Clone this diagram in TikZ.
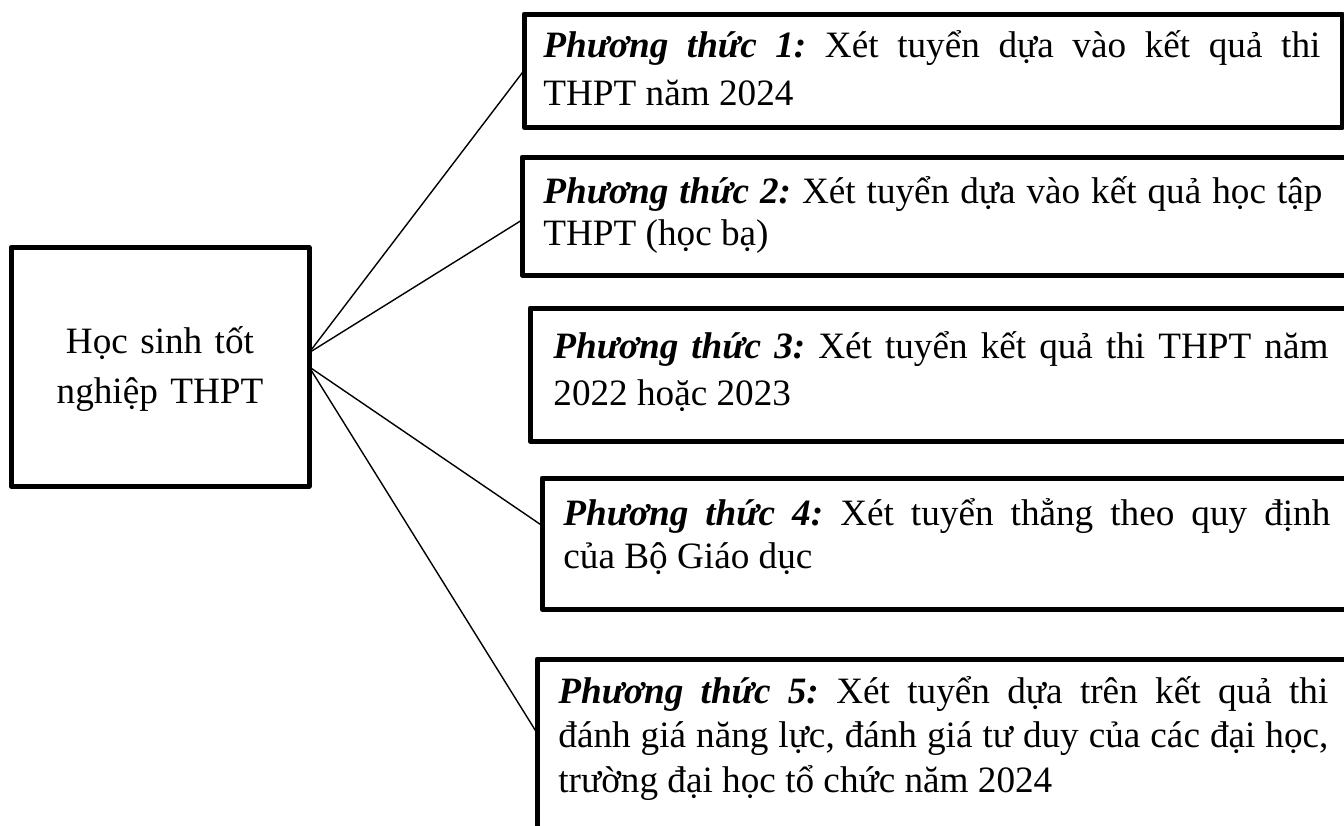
\documentclass[tikz,border=0pt]{standalone}
\usepackage{fontspec}
\setmainfont{Liberation Serif}
\usetikzlibrary{calc}
\tikzset{
  boxline/.style={draw, line width=2.5pt, outer sep=0pt, inner sep=0pt, anchor=north west, line join=round},
  conn/.style={draw, line width=0.7pt},
  ptxt/.style={inner sep=0pt, anchor=base west, align=justify},
}
\newcommand{\phtt}[1]{\textbf{\textit{Phương thức #1:}}}
\frenchspacing
\begin{document}
\begin{tikzpicture}[x=0.5pt,y=-0.5pt]
\clip (0,0) rectangle (1344,825);
\fill[white] (0,0) rectangle (1344,825);
% left box
\node[boxline, minimum width=149pt, minimum height=119.25pt] (H) at (11,247.5) {};
\node[inner sep=0pt, anchor=base, align=center, text width=140pt,
      font=\fontsize{18.6}{25}\selectfont] (Ht) at (160,353) {Học sinh tốt\\nghiệp THPT};
% right boxes
\node[boxline, minimum width=409pt, minimum height=56.5pt] (b1) at (524,14) {};
\node[boxline, minimum width=450pt, minimum height=59pt] (b2) at (522,157) {};
\node[boxline, minimum width=450pt, minimum height=66.5pt] (b3) at (530,308) {};
\node[boxline, minimum width=450pt, minimum height=65.5pt] (b4) at (542,478) {};
\node[boxline, minimum width=450pt, minimum height=125pt] (b5) at (537,659) {};
% texts
\node[ptxt, text width=388.5pt, font=\fontsize{18.6}{24}\selectfont] (t1) at (543,57)
  {\phtt{1} Xét tuyển dựa vào kết quả thi\linebreak THPT năm 2024};
\node[ptxt, text width=389.5pt, font=\fontsize{18.6}{21}\selectfont] (t2) at (543,203)
  {\phtt{2} Xét tuyển dựa vào kết quả học tập\linebreak THPT (học bạ)};
\node[ptxt, text width=387.5pt, font=\fontsize{18.6}{23.5}\selectfont] (t3) at (553,358)
  {\phtt{3} Xét tuyển kết quả thi THPT năm\linebreak 2022 hoặc 2023};
\node[ptxt, text width=383.5pt, font=\fontsize{18.6}{21.5}\selectfont] (t4) at (563,525)
  {\phtt{4} Xét tuyển thẳng theo quy định\linebreak của Bộ Giáo dục};
\node[ptxt, text width=385pt, font=\fontsize{18.6}{22.25}\selectfont] (t5) at (558,703)
  {\phtt{5} Xét tuyển dựa trên kết quả thi\linebreak đánh giá năng lực, đánh giá tư duy của các đại học,\linebreak trường đại học tổ chức năm 2024};
% connectors
\draw[conn] ($(H.east)+(0,-14)$) -- (b1.west);
\draw[conn] ($(H.east)+(0,-14)$) -- ($(b2.west)+(0,4)$);
\draw[conn] ($(H.east)+(0,-8)$) -- ($(H.east)+(0,-8)$ -| b3.west);
\draw[conn] (H.east) -- ($(b4.west)+(0,-18)$);
\draw[conn] (H.east) -- ($(b5.north west)+(0,74)$);
\end{tikzpicture}
\end{document}
